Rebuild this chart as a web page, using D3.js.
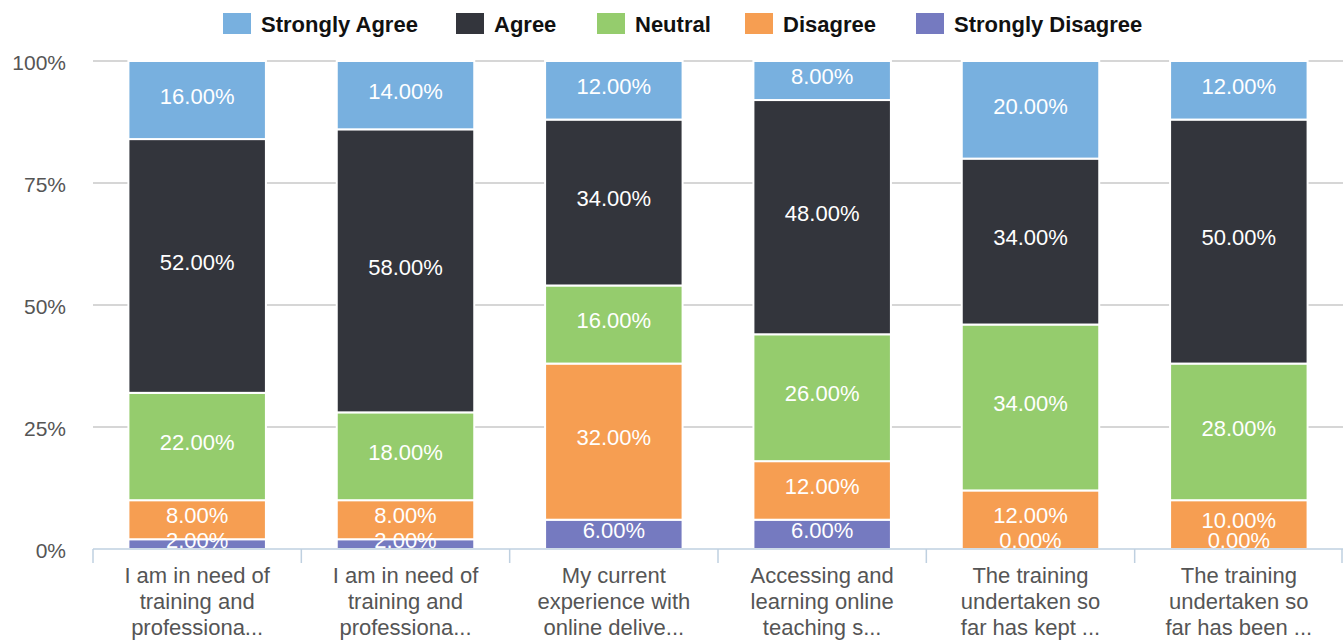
<!DOCTYPE html>
<html>
<head>
<meta charset="utf-8">
<script src="https://cdn.jsdelivr.net/npm/d3@7"></script>
<style>
  body { margin: 0; background: #fff; }
  svg text { font-family: "Liberation Sans", Arial, sans-serif; }
</style>
</head>
<body>
<div id="chart"></div>
<script>
// Data
const categories = [
  ['I am in need of', 'training and', 'professiona...'],
  ['I am in need of', 'training and', 'professiona...'],
  ['My current', 'experience with', 'online delive...'],
  ['Accessing and', 'learning online', 'teaching s...'],
  ['The training', 'undertaken so', 'far has kept ...'],
  ['The training', 'undertaken so', 'far has been ...']
];
const seriesNames = ['Strongly Agree', 'Agree', 'Neutral', 'Disagree', 'Strongly Disagree'];
const seriesColors = ['#78b0df', '#33353c', '#95cc6d', '#f69e52', '#757ac0'];
const stronglyAgree = [16, 14, 12, 8, 20, 12];
const agree = [52, 58, 34, 48, 34, 50];
const neutral = [22, 18, 16, 26, 34, 28];
const disagree = [8, 8, 32, 12, 12, 10];
const stronglyDisagree = [2, 2, 6, 6, 0, 0];
const yTicks = [0, 25, 50, 75, 100];

const W = 1343, H = 641;
const margin = {top: 61, right: 0, bottom: 92, left: 93};

const svg = d3.select('#chart').append('svg')
  .attr('width', W)
  .attr('height', H);

const x = d3.scaleBand()
  .domain(d3.range(categories.length))
  .range([margin.left, W - margin.right])
  .paddingInner(0.34)
  .paddingOuter(0.17);

const y = d3.scaleLinear()
  .domain([0, 100])
  .range([H - margin.bottom, margin.top]);

// build rows for stack
const values = [stronglyAgree, agree, neutral, disagree, stronglyDisagree];
const rows = categories.map((c, i) => {
  let r = {idx: i};
  seriesNames.forEach((s, k) => r[s] = values[k][i]);
  return r;
});
// stack bottom up: Strongly Disagree first
const stackKeys = seriesNames.slice().reverse();
const stacked = d3.stack().keys(stackKeys)(rows);

// gridlines
svg.append('g')
  .selectAll('line')
  .data(yTicks.filter(d => d > 0))
  .enter()
  .append('line')
  .attr('x1', margin.left)
  .attr('x2', W - margin.right)
  .attr('y1', d => y(d))
  .attr('y2', d => y(d))
  .style('stroke', '#c8c8c8')
  .style('stroke-width', 1.5);

// y labels
svg.append('g')
  .selectAll('text')
  .data(yTicks)
  .enter()
  .append('text')
  .attr('x', 66)
  .attr('y', d => y(d) + 2)
  .attr('dy', '0.35em')
  .attr('text-anchor', 'end')
  .style('font-size', '21px')
  .style('fill', '#555')
  .text(d => d + '%');

// bars
const layers = svg.append('g').selectAll('g')
  .data(stacked)
  .enter()
  .append('g')
  .style('fill', d => seriesColors[seriesNames.indexOf(d.key)]);

layers.selectAll('rect')
  .data(d => d)
  .enter()
  .append('rect')
  .attr('x', d => x(d.data.idx))
  .attr('width', x.bandwidth())
  .attr('y', d => y(d[1]))
  .attr('height', d => y(d[0]) - y(d[1]))
  .style('stroke', '#fff')
  .style('stroke-width', 2);

// value labels
const labels = svg.append('g');
stacked.forEach(layer => {
  layer.forEach(d => {
    let cy = (y(d[0]) + y(d[1])) / 2 - 4;
    cy = Math.min(cy, 540);
    labels.append('text')
      .attr('x', x(d.data.idx) + x.bandwidth() / 2)
      .attr('y', cy)
      .attr('dy', '0.35em')
      .attr('text-anchor', 'middle')
      .style('font-size', '22px')
      .style('fill', '#fff')
      .text((d[1] - d[0]).toFixed(2) + '%');
  });
});

// x axis line and ticks
const axisY = y(0);
const axis = svg.append('g').style('stroke', '#bfd0e0').style('stroke-width', 1.5);
axis.append('line')
  .attr('x1', margin.left)
  .attr('x2', W)
  .attr('y1', axisY)
  .attr('y2', axisY);
const step = x.step();
axis.selectAll('.tick')
  .data(d3.range(categories.length + 1))
  .enter()
  .append('line')
  .attr('class', 'tick')
  .attr('x1', i => Math.min(margin.left + i * step, W - 1))
  .attr('x2', i => Math.min(margin.left + i * step, W - 1))
  .attr('y1', axisY)
  .attr('y2', axisY + 14);

// category labels
const catG = svg.append('g');
categories.forEach((lines, i) => {
  const t = catG.append('text')
    .attr('text-anchor', 'middle')
    .style('font-size', '22px')
    .style('fill', '#555');
  lines.forEach((l, k) => {
    t.append('tspan')
      .attr('x', x(i) + x.bandwidth() / 2)
      .attr('y', 575 + k * 26)
      .attr('dy', '0.35em')
      .text(l);
  });
});

// legend
const legendX = [223, 456, 597, 745, 916];
const legend = svg.append('g');
seriesNames.forEach((s, k) => {
  legend.append('rect')
    .attr('x', legendX[k])
    .attr('y', 13)
    .attr('width', 28)
    .attr('height', 21)
    .style('fill', seriesColors[k]);
  legend.append('text')
    .attr('x', legendX[k] + 38)
    .attr('y', 24)
    .attr('dy', '0.35em')
    .style('font-size', '22px')
    .style('font-weight', 'bold')
    .style('fill', '#111')
    .text(s);
});
</script>
</body>
</html>
